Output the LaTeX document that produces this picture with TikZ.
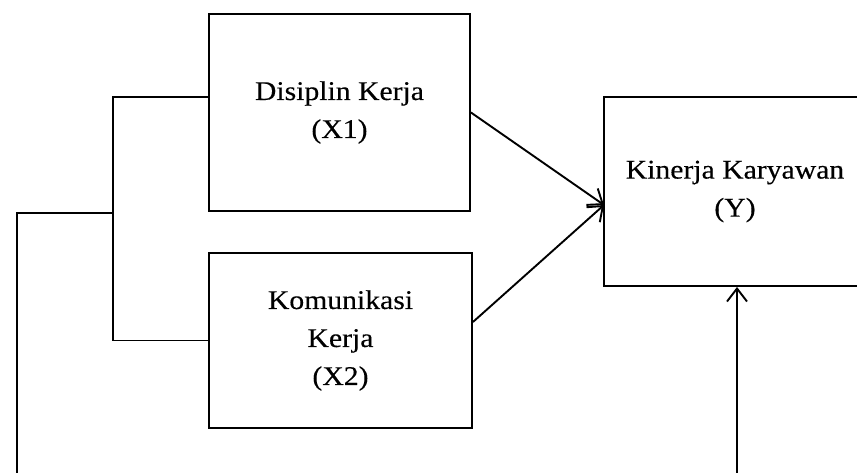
\documentclass[tikz,border=0pt]{standalone}
\usepackage{fontspec}
\setmainfont{Liberation Serif}[FakeStretch=1.1,FakeBold=0.3]
\usetikzlibrary{arrows.meta,calc}

\begin{document}
\begin{tikzpicture}[x=1pt,y=-1pt,
  box/.style={draw, line width=1.9pt, inner sep=0pt, align=center,
    font=\fontsize{27}{38}\selectfont},
  link/.style={line width=1.9pt},
  arr/.style={link, -{Straight Barb[length=13pt,width=20pt]}}]
\useasboundingbox (0,0) rectangle (857,473);
\clip (0,0) rectangle (857,473);

% variable boxes
\node[box, minimum width=261pt, minimum height=197pt] (x1) at (339.5,112.5)
  {Disiplin Kerja\\(X1)};
\node[box, minimum width=263pt, minimum height=175pt] (x2) at (340.5,340.5)
  {Komunikasi\\Kerja\\(X2)};
\node[box, minimum width=262pt, minimum height=189pt] (y) at (735,191.5)
  {Kinerja Karyawan\\(Y)};

% bracket joining X1 and X2
\coordinate (jt) at (113,97);
\coordinate (jb) at (113,340.5);
\coordinate (jm) at (113,213);
\draw[link] (x1.west |- jt) -- (jt) -- (jb) -- (x2.west);

% simultaneous path running under the diagram into Y
\coordinate (lc) at (17,500);
\coordinate (rc) at (737,500);
\draw[arr] (jm) -| (lc) -- (rc) -- (rc |- y.south);

% partial paths
\coordinate (yin) at (604,205);
\draw[arr] (x1.east) -- (yin);
\draw[arr] ($(x2.east)+(0,-18.5)$) -- (yin);
\end{tikzpicture}
\end{document}
